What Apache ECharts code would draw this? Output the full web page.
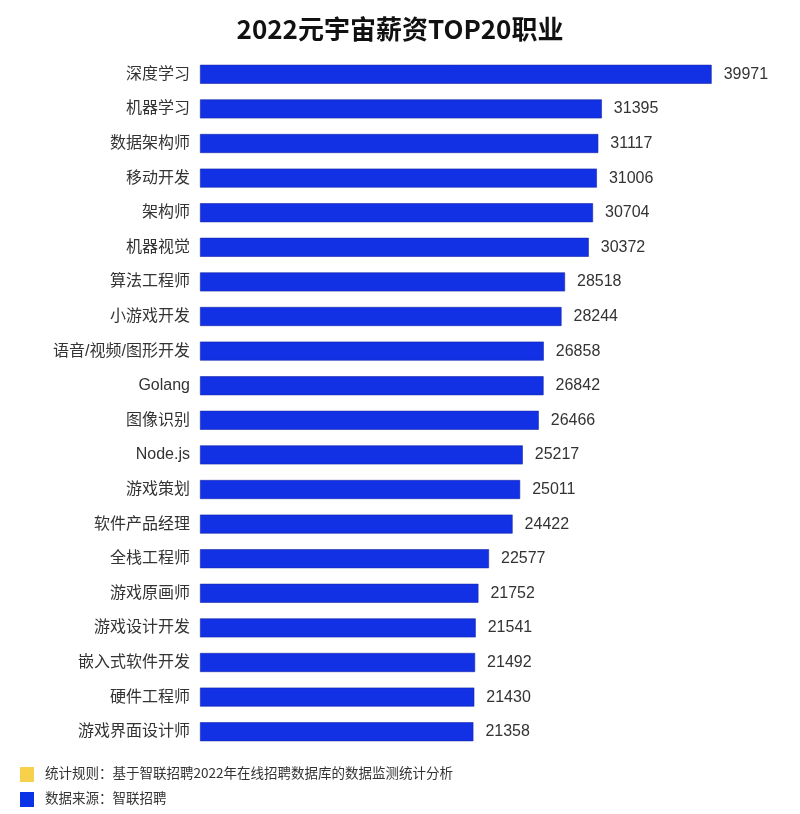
<!DOCTYPE html>
<html>
<head>
<meta charset="utf-8">
<script src="https://cdn.jsdelivr.net/npm/echarts@6/dist/echarts.min.js"></script>
<style>
  html, body { margin: 0; padding: 0; background: #fff; }
  #main { width: 800px; height: 814px; }
</style>
</head>
<body>
<div id="main"></div>
<script type="text/javascript">
// 职业名称（从上到下）
var jobs = ['深度学习', '机器学习', '数据架构师', '移动开发', '架构师', '机器视觉', '算法工程师',
    '小游戏开发', '语音/视频/图形开发', 'Golang', '图像识别', 'Node.js', '游戏策划', '软件产品经理',
    '全栈工程师', '游戏原画师', '游戏设计开发', '嵌入式软件开发', '硬件工程师', '游戏界面设计师'];
// 平均月薪（元）
var salary = [39971, 31395, 31117, 31006, 30704, 30372, 28518, 28244, 26858, 26842, 26466,
    25217, 25011, 24422, 22577, 21752, 21541, 21492, 21430, 21358];
var notes = ['统计规则：基于智联招聘2022年在线招聘数据库的数据监测统计分析', '数据来源：智联招聘'];

var font = '"Noto Sans CJK SC", "Noto Sans", sans-serif';
var numFont = '"Liberation Sans", "Noto Sans CJK SC", sans-serif';
var chart = echarts.init(document.getElementById('main'));

var option = {
    backgroundColor: '#ffffff',
    title: {
        text: '2022元宇宙薪资TOP20职业',
        left: 'center',
        top: 11,
        textStyle: { fontFamily: font, fontSize: 26, fontWeight: 'bold', color: '#111' }
    },
    grid: { left: 200, top: 57, width: 576, height: 692 },
    xAxis: {
        type: 'value',
        min: 0,
        max: 45000,
        show: false
    },
    yAxis: {
        type: 'category',
        inverse: true,
        data: jobs,
        axisLine: { show: false },
        axisTick: { show: false },
        axisLabel: { fontFamily: numFont, fontSize: 16, color: '#333', margin: 10 }
    },
    series: [{
        type: 'bar',
        data: salary,
        barWidth: 19,
        itemStyle: { color: '#1230e4', borderColor: '#1a2aa8', borderWidth: 0.6 },
        label: {
            show: true,
            position: 'right',
            distance: 12,
            fontFamily: numFont,
            fontSize: 16,
            color: '#333'
        }
    }],
    graphic: [
        { type: 'rect', left: 20, top: 767, shape: { width: 14, height: 15 }, style: { fill: '#f7d04c' } },
        { type: 'text', left: 45, top: 766, style: { text: notes[0], font: '13.5px ' + font, fill: '#333' } },
        { type: 'rect', left: 20, top: 792, shape: { width: 14, height: 15 }, style: { fill: '#0a33e8' } },
        { type: 'text', left: 45, top: 791, style: { text: notes[1], font: '13.5px ' + font, fill: '#333' } }
    ]
};

chart.setOption(option);
</script>
</body>
</html>
